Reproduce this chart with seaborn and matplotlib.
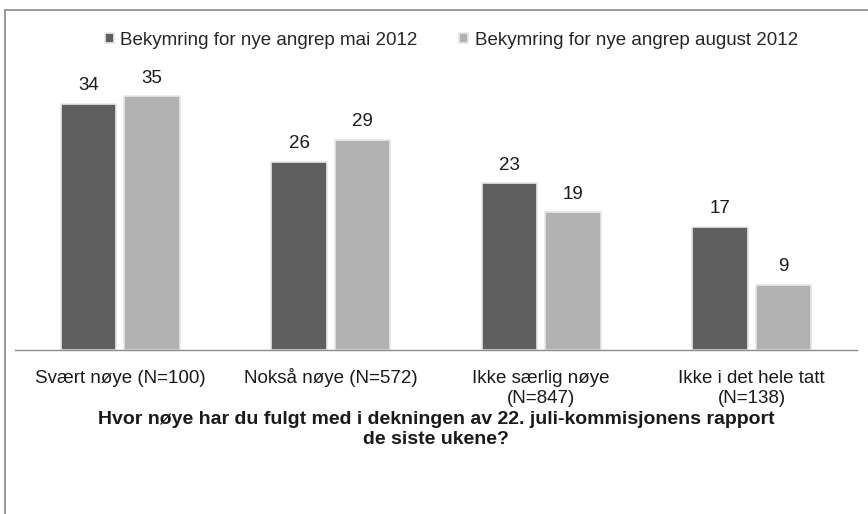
import matplotlib
matplotlib.use("Agg")
import matplotlib.pyplot as plt
from matplotlib.lines import Line2D
from matplotlib.transforms import ScaledTranslation
import seaborn as sns
import pandas as pd

categories = ["Svært nøye (N=100)", "Nokså nøye (N=572)",
              "Ikke særlig nøye\n(N=847)", "Ikke i det hele tatt\n(N=138)"]
series_names = ["Bekymring for nye angrep mai 2012",
                "Bekymring for nye angrep august 2012"]
mai_2012 = [34, 26, 23, 17]
aug_2012 = [35, 29, 19, 9]
xlabel = ("Hvor nøye har du fulgt med i dekningen av 22. juli-kommisjonens rapport\n"
          "de siste ukene?")

df = pd.DataFrame({
    "kategori": categories * 2,
    "serie": [series_names[0]] * 4 + [series_names[1]] * 4,
    "verdi": mai_2012 + aug_2012,
})

sns.set_style("white")
plt.rcParams["font.family"] = ["Liberation Sans", "DejaVu Sans"]
fs = 13.5

fig = plt.figure(figsize=(8.68, 5.14), dpi=100)
ax = fig.add_axes([0.0173, 0.319, 0.97, 0.564])

sns.barplot(data=df, x="kategori", y="verdi", hue="serie",
            palette=["#5f5f5f", "#b2b2b2"], width=0.6, gap=0.12,
            edgecolor="#e8e8e8", linewidth=1.2, ax=ax)

for cont in ax.containers:
    ax.bar_label(cont, fmt="%d", padding=7, fontsize=fs, color="#1a1a1a")

ax.set_ylim(0, 40)
ax.set_yticks([])
ax.set_ylabel("")
ax.tick_params(axis="x", length=0, labelsize=fs, pad=14.7, labelcolor="#1a1a1a")
plt.setp(ax.get_xticklabels(), linespacing=1.2)

ax.set_xlabel(xlabel, fontsize=14, fontweight="bold", linespacing=1.2,
              va="center", color="#1a1a1a")
ax.xaxis.set_label_coords(0.5, -0.275)

for s in ["top", "right", "left"]:
    ax.spines[s].set_visible(False)
ax.spines["bottom"].set_color("#8a8a8a")
ax.spines["bottom"].set_linewidth(1)

handles, labels = ax.get_legend_handles_labels()
ax.legend_.remove()
fig.legend(handles, labels, loc="center", bbox_to_anchor=(0.52, 0.922), ncol=2,
           frameon=False, fontsize=fs, handlelength=0.48, handleheight=0.48,
           handletextpad=0.35, columnspacing=2.2)

# keep first lines of tick labels on one baseline (å is taller than l)
renderer = fig.canvas.get_renderer()
for lab in ax.get_xticklabels():
    prop = lab.get_fontproperties()
    _, lp_h, lp_d = renderer.get_text_width_height_descent("lp", prop, ismath=False)
    first = lab.get_text().split("\n")[0]
    _, h, d = renderer.get_text_width_height_descent(first, prop, ismath=False)
    extra = (max(h, lp_h) - max(d, lp_d)) - (lp_h - lp_d)
    if extra > 0:
        lab.set_transform(lab.get_transform() +
                          ScaledTranslation(0, extra / fig.dpi, fig.dpi_scale_trans))

# chart frame
fig.add_artist(Line2D([0.00576, 1], [0.9805, 0.9805], color="#8a8a8a", lw=1.2))
fig.add_artist(Line2D([0.00576, 0.00576], [0, 0.9805], color="#8a8a8a", lw=1.2))

fig.savefig("out.png", dpi=100, facecolor="white")
